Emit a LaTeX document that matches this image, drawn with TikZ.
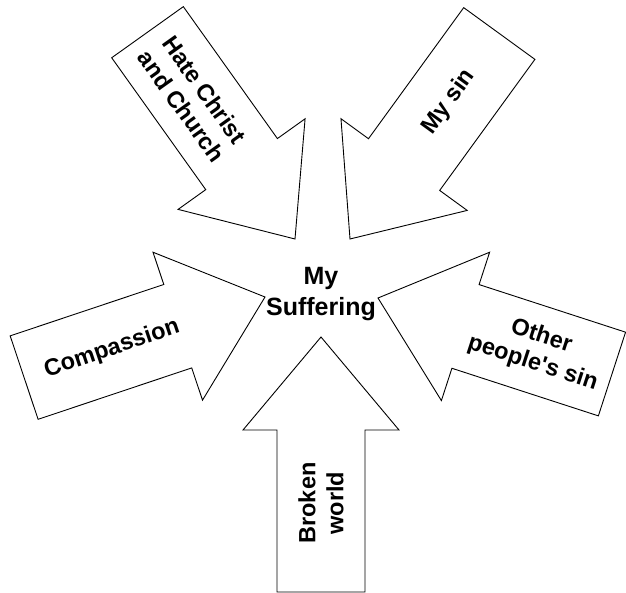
\documentclass[tikz,border=0pt]{standalone}
\usepackage{fontspec}
\setmainfont{Liberation Sans}
\begin{document}
\begin{tikzpicture}[x=1pt,y=-1pt,line width=0.9pt,
    lbl/.style={font=\bfseries\fontsize{23.5}{28}\selectfont,align=center,inner sep=0pt}]

\useasboundingbox (0,0) rectangle (626,593);

\coordinate (hatetip) at (295,239);
\coordinate (sintip) at (350,239);
\coordinate (comptip) at (265,297);
\coordinate (othertip) at (378,298);
\coordinate (worldtip) at (321,337);

\path [draw,shift={(hatetip)},rotate=-54.5]
    (0,0) -- (-92,78) -- (-92,44) -- (-254,44) -- (-254,-44) -- (-92,-44) -- (-92,-78) -- cycle;
\path [draw,shift={(sintip)},rotate=-126]
    (0,0) -- (-92,78) -- (-92,44) -- (-254,44) -- (-254,-44) -- (-92,-44) -- (-92,-78) -- cycle;
\path [draw,shift={(comptip)},rotate=18.5]
    (0,0) -- (-92,78) -- (-92,44) -- (-254,44) -- (-254,-44) -- (-92,-44) -- (-92,-78) -- cycle;
\path [draw,shift={(othertip)},rotate=162]
    (0,0) -- (-92,78) -- (-92,44) -- (-246,44) -- (-246,-44) -- (-92,-44) -- (-92,-78) -- cycle;
\path [draw,shift={(worldtip)},rotate=90]
    (0,0) -- (-93,78) -- (-93,44) -- (-255,44) -- (-255,-44) -- (-93,-44) -- (-93,-78) -- cycle;

\node [lbl,font=\bfseries\fontsize{25}{31}\selectfont] (me) at (321,294) {My\\Suffering};

\node [lbl,rotate=-54.5] (hate) at (193,98) {Hate Christ\\and Church};
\node [lbl,rotate=54] (sin) at (449,102) {My sin};
\node [lbl,rotate=18.5] (comp) at (112,349) {Compassion};
\node [lbl,rotate=-18] (other) at (537,350) {Other\\people\textquotesingle s sin};
\node [lbl,rotate=90] (world) at (321,503) {Broken\\world};

\end{tikzpicture}
\end{document}
